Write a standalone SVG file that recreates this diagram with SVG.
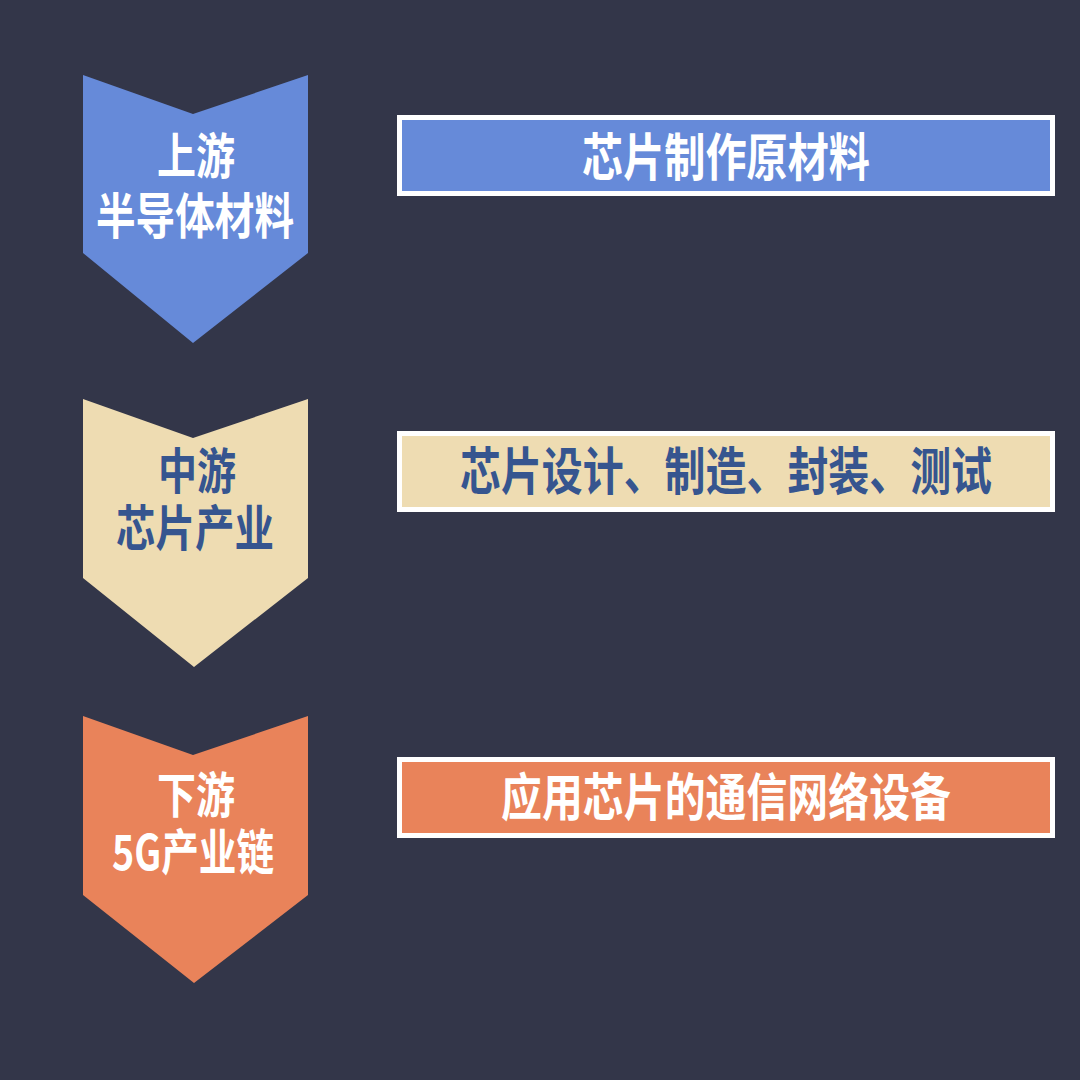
<svg xmlns="http://www.w3.org/2000/svg" width="1080" height="1080" viewBox="0 0 1080 1080">
  <style>
    .t { font-family: "Noto Sans CJK SC", "Noto Sans", sans-serif; font-weight: 700; text-anchor: middle; }
    .c { font-size: 49px; }
    .r { font-size: 51px; }
    .w { fill: #ffffff; }
    .d { fill: #36558f; }
    .box { stroke: #ffffff; stroke-width: 5; }
    .blue { fill: #668ad9; }
    .beige { fill: #eedcb2; }
    .orange { fill: #e9835a; }
  </style>
  <rect x="0" y="0" width="1080" height="1080" fill="#333649"/>

  <g id="upstream">
    <polygon class="blue" points="83,75 193,114 308,75 308,253 193,343 83,253"/>
    <text class="t c w" x="196" y="174" textLength="78" lengthAdjust="spacingAndGlyphs">上游</text>
    <text class="t c w" x="195" y="234" textLength="198" lengthAdjust="spacingAndGlyphs">半导体材料</text>
  </g>
  <g id="upstream-desc">
    <rect class="box blue" x="399.5" y="117.5" width="653" height="76"/>
    <text class="t r w" x="726" y="176" textLength="288" lengthAdjust="spacingAndGlyphs">芯片制作原材料</text>
  </g>

  <g id="midstream">
    <polygon class="beige" points="83,399 193,438 308,399 308,578 194,667 83,578"/>
    <text class="t c d" x="197" y="489" textLength="78" lengthAdjust="spacingAndGlyphs">中游</text>
    <text class="t c d" x="195" y="546" textLength="158" lengthAdjust="spacingAndGlyphs">芯片产业</text>
  </g>
  <g id="midstream-desc">
    <rect class="box beige" x="399.5" y="433.5" width="653" height="76"/>
    <text class="t r d" x="726" y="490" textLength="532" lengthAdjust="spacingAndGlyphs">芯片设计、制造、封装、测试</text>
  </g>

  <g id="downstream">
    <polygon class="orange" points="83,716 193,755 308,716 308,895 194,983 83,895"/>
    <text class="t c w" x="196" y="813" textLength="78" lengthAdjust="spacingAndGlyphs">下游</text>
    <text class="t c w" x="193" y="870" textLength="162" lengthAdjust="spacingAndGlyphs">5G产业链</text>
  </g>
  <g id="downstream-desc">
    <rect class="box orange" x="399.5" y="759.5" width="653" height="76"/>
    <text class="t r w" x="726" y="816" textLength="450" lengthAdjust="spacingAndGlyphs">应用芯片的通信网络设备</text>
  </g>

  <g id="connectors"/>
</svg>
